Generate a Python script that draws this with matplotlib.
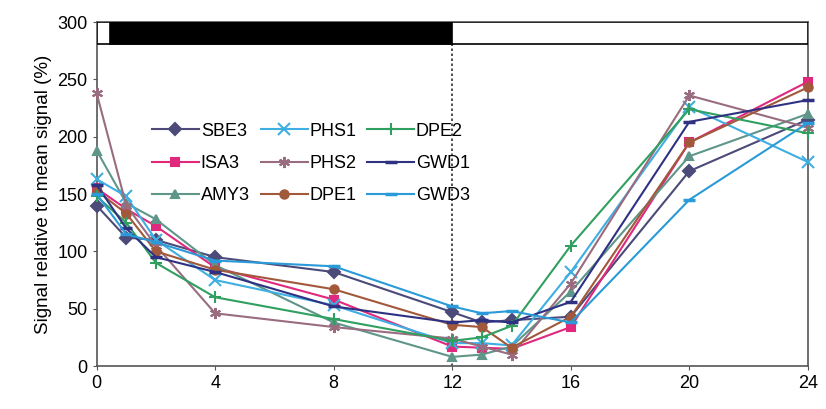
import numpy as np
import matplotlib.pyplot as plt
from matplotlib.patches import Rectangle

plt.rcParams['font.family'] = ['Liberation Sans', 'DejaVu Sans']

hours = [0, 1, 2, 4, 8, 12, 13, 14, 16, 20, 24]

sbe3 = [140, 112, 110, 95, 82, 47, 38, 40, 43, 170, 215]
isa3 = [155, 137, 122, 86, 58, 17, 16, 15, 34, 195, 248]
amy3 = [188, 142, 128, 88, 38, 8, 10, 17, 65, 183, 220]
phs1 = [163, 148, 110, 75, 53, 20, 20, 18, 82, 226, 178]
phs2 = [238, 140, 105, 46, 34, 24, 17, 10, 72, 236, 208]
dpe1 = [153, 133, 100, 84, 67, 36, 34, 16, 43, 195, 243]
dpe2 = [148, 125, 90, 60, 41, 22, 25, 35, 105, 224, 203]
gwd1 = [158, 120, 95, 82, 52, 38, 40, 38, 56, 213, 232]
gwd3 = [150, 115, 108, 92, 87, 52, 46, 48, 38, 145, 212]

series = [
    ("SBE3", sbe3, "#4b4a78", "D"),
    ("ISA3", isa3, "#e0287c", "s"),
    ("AMY3", amy3, "#5f968a", "^"),
    ("PHS1", phs1, "#3faee2", "x"),
    ("PHS2", phs2, "#9a6c80", (6, 2, 0)),
    ("DPE1", dpe1, "#a2583a", "o"),
    ("DPE2", dpe2, "#2fa060", "+"),
    ("GWD1", gwd1, "#2f3282", "_"),
    ("GWD3", gwd3, "#2a9ad8", "_"),
]

fig = plt.figure(figsize=(8.26, 4.09), dpi=100)
ax = fig.add_axes([0.117, 0.105, 0.861, 0.841])

for name, vals, col, mk in series:
    ms = 6
    mew = 1.5
    if mk in ("x", "+", (6, 2, 0)):
        ms = 8
    if mk == "_":
        ms = 8
        mew = 2.5
    ax.plot(hours, vals, color=col, marker=mk, markersize=ms, markeredgewidth=mew,
            linewidth=1.5, label=name, clip_on=False, zorder=4)

# light/dark bar
ax.add_patch(Rectangle((0, 281), 24, 19, facecolor="white", edgecolor="black", lw=1.2, zorder=3))
ax.add_patch(Rectangle((0.45, 281), 11.55, 19, facecolor="black", edgecolor="black", lw=1.2, zorder=3))
ax.axvline(12, color="#333333", linestyle=(0, (1.5, 1.5)), linewidth=1.2, zorder=1)

ax.set_xlim(0, 24)
ax.set_ylim(0, 300)
ax.set_xticks([0, 4, 8, 12, 16, 20, 24])
ax.set_yticks([0, 50, 100, 150, 200, 250, 300])
ax.tick_params(labelsize=13, length=3, color="#555555")
for s in ax.spines.values():
    s.set_color("#555555")
    s.set_linewidth(1.2)
ax.set_ylabel("Signal relative to mean signal (%)", fontsize=13.5)

ax.legend(ncol=3, loc="upper left", bbox_to_anchor=(0.055, 0.755), frameon=False,
          fontsize=13, handlelength=2.6, columnspacing=0.6, handletextpad=0.1,
          labelspacing=0.85)

fig.savefig("out.png", dpi=100)
